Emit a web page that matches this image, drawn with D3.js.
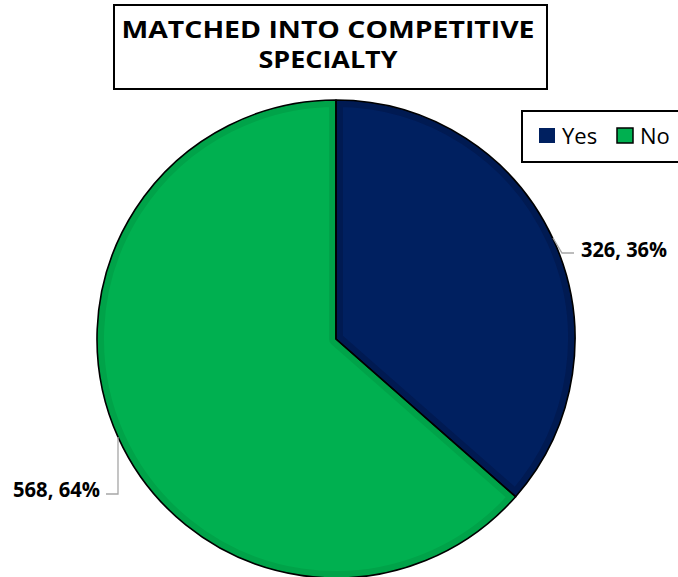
<!DOCTYPE html>
<html>
  <head>
    <meta charset="utf-8"/>
    <title>Matched into competitive specialty</title>
    <style type="text/css">
body {
  margin: 0;
  background: #fff;
}
text {
  font-family: "Open Sans", Lato, sans-serif;
  font-weight: bold;
}
    </style>
  </head>
  <body>
    <div id="chart"></div>
    <script src="https://cdn.jsdelivr.net/npm/d3@7"></script>
    <script>
    const categories = ["Yes", "No"];
    const values = [326, 568];
    const colors = ["#002060", "#00B050"];
    const bandColors = ["#001a52", "#00a349"];
    const titleLines = ["MATCHED INTO COMPETITIVE", "SPECIALTY"];

    const width = 678, height = 577;
    const cx = 336, cy = 339, r = 239;

    const svg = d3.select("#chart").append("svg")
        .attr("width", width)
        .attr("height", height);

    const total = d3.sum(values);
    const data = categories.map((c, i) => ({cat: c, value: values[i], i: i}));

    const pie = d3.pie().sort(null).value(d => d.value);
    const arcs = pie(data);
    const arc = d3.arc().innerRadius(0).outerRadius(r);

    const g = svg.append("g").attr("transform", `translate(${cx},${cy})`);

    const defs = svg.append("defs");
    arcs.forEach((a, i) => {
      defs.append("clipPath").attr("id", "clip" + i)
        .append("path").attr("d", arc(a));
    });

    // slice fill with inner darker band
    g.selectAll(".slice")
        .data(arcs)
        .enter()
        .append("path")
        .attr("class", "slice")
        .attr("d", arc)
        .attr("clip-path", (d, i) => `url(#clip${i})`)
        .style("fill", d => colors[d.data.i])
        .style("stroke", d => bandColors[d.data.i])
        .style("stroke-width", 14)
        .style("stroke-linejoin", "round");

    g.selectAll(".edge")
        .data(arcs)
        .enter()
        .append("path")
        .attr("class", "edge")
        .attr("d", arc)
        .style("fill", "none")
        .style("stroke", "#000")
        .style("stroke-width", 1.6)
        .style("stroke-linejoin", "round");

    // data labels with leader lines
    const labelText = d => `${d.value}, ${Math.round(d.value / total * 100)}%`;
    const labelPos = [
      {line: [[553, 238], [562, 253], [574, 253]], x: 581, y: 257, w: 86},
      {line: [[118, 437], [118, 494], [106, 494]], x: 13, y: 497, w: 87}
    ];

    svg.selectAll(".leader")
        .data(data)
        .enter()
        .append("path")
        .attr("class", "leader")
        .attr("d", d => d3.line()(labelPos[d.i].line))
        .style("fill", "none")
        .style("stroke", "#a6a6a6")
        .style("stroke-width", 1.3);

    svg.selectAll(".dlabel")
        .data(data)
        .enter()
        .append("text")
        .attr("class", "dlabel")
        .attr("x", d => labelPos[d.i].x)
        .attr("y", d => labelPos[d.i].y)
        .attr("textLength", d => labelPos[d.i].w)
        .attr("lengthAdjust", "spacingAndGlyphs")
        .style("font-size", "20.5px")
        .style("fill", "#000")
        .text(labelText);

    // title
    svg.append("rect")
        .attr("x", 114).attr("y", 5)
        .attr("width", 433).attr("height", 84)
        .style("fill", "#fff")
        .style("stroke", "#000")
        .style("stroke-width", 2);

    const titleW = [413, 139];
    svg.selectAll(".title")
        .data(titleLines)
        .enter()
        .append("text")
        .attr("class", "title")
        .attr("x", 328)
        .attr("y", (d, i) => 38 + i * 30)
        .attr("text-anchor", "middle")
        .attr("textLength", (d, i) => titleW[i])
        .attr("lengthAdjust", "spacingAndGlyphs")
        .style("font-size", "24px")
        .style("fill", "#000")
        .text(d => d);

    // legend
    svg.append("rect")
        .attr("x", 522).attr("y", 111)
        .attr("width", 170).attr("height", 51)
        .style("fill", "#fff")
        .style("stroke", "#000")
        .style("stroke-width", 2);

    const legX = [539, 617];
    const leg = svg.selectAll(".leg")
        .data(data)
        .enter()
        .append("g")
        .attr("class", "leg")
        .attr("transform", d => `translate(${legX[d.i]},128)`);

    leg.append("rect")
        .attr("width", 16).attr("height", 15)
        .style("fill", d => colors[d.i])
        .style("stroke", d => d.i === 1 ? "#000" : "none")
        .style("stroke-width", 1.5);

    leg.append("text")
        .attr("x", 23)
        .attr("y", 16)
        .style("font-size", "22px")
        .style("font-weight", "normal")
        .style("fill", "#000")
        .text(d => d.cat);
    </script>
  </body>
</html>
